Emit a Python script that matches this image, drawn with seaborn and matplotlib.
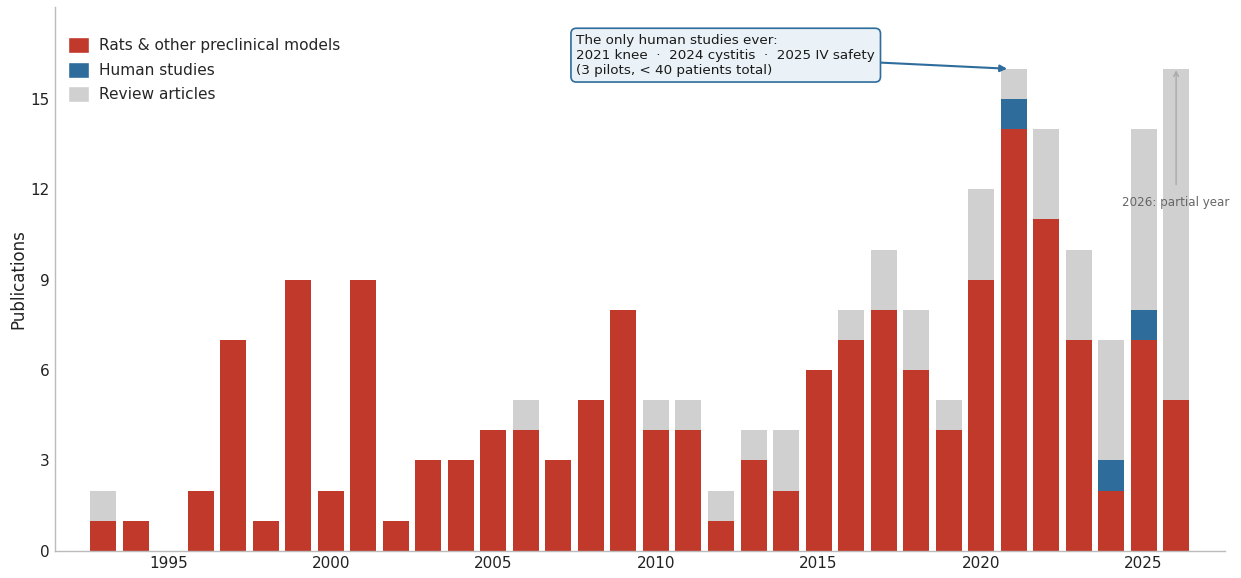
import numpy as np
import pandas as pd
import matplotlib
matplotlib.use("Agg")
import matplotlib.pyplot as plt
from matplotlib.patches import Patch
import seaborn as sns

years = list(range(1993, 2027))
preclinical = [1, 1, 0, 2, 7, 1, 9, 2, 9, 1, 3, 3, 4, 4, 3, 5, 8, 4, 4, 1, 3, 2, 6, 7, 8, 6, 4, 9, 14, 11, 7, 2, 7, 5]
human =       [0, 0, 0, 0, 0, 0, 0, 0, 0, 0, 0, 0, 0, 0, 0, 0, 0, 0, 0, 0, 0, 0, 0, 0, 0, 0, 0, 0, 1, 0, 0, 1, 1, 0]
reviews =     [1, 0, 0, 0, 0, 0, 0, 0, 0, 0, 0, 0, 0, 1, 0, 0, 0, 1, 1, 1, 1, 2, 0, 1, 2, 2, 1, 3, 1, 3, 3, 4, 6, 11]

RED = "#c0392b"
BLUE = "#2e6c9c"
GRAY = "#d0d0d0"

df = pd.DataFrame({"year": years, "pre": preclinical, "hum": human, "rev": reviews})
df["lvl2"] = df["pre"] + df["hum"]
df["lvl3"] = df["lvl2"] + df["rev"]

sns.set_theme(style="white")
plt.rcParams["font.family"] = ["DejaVu Sans"]

fig, ax = plt.subplots(figsize=(12.41, 5.78), dpi=100)
fig.subplots_adjust(left=0.044, right=0.987, top=0.988, bottom=0.047)

sns.barplot(data=df, x="year", y="lvl3", native_scale=True, color=GRAY, saturation=1, width=0.8, ax=ax, linewidth=0)
sns.barplot(data=df, x="year", y="lvl2", native_scale=True, color=BLUE, saturation=1, width=0.8, ax=ax, linewidth=0)
sns.barplot(data=df, x="year", y="pre", native_scale=True, color=RED, saturation=1, width=0.8, ax=ax, linewidth=0)

ax.set_xlim(1991.5, 2027.5)
ax.set_ylim(0, 18.05)
ax.set_yticks([0, 3, 6, 9, 12, 15])
ax.set_xticks([1995, 2000, 2005, 2010, 2015, 2020, 2025])
ax.tick_params(axis="both", length=0, labelsize=11, colors="#222222")
ax.set_xlabel("")
ax.set_ylabel("Publications", fontsize=12, color="#222222", labelpad=2)
for s in ["top", "right"]:
    ax.spines[s].set_visible(False)
for s in ["left", "bottom"]:
    ax.spines[s].set_color("#bbbbbb")
    ax.spines[s].set_linewidth(1.0)

handles = [Patch(facecolor=RED, label="Rats & other preclinical models"),
           Patch(facecolor=BLUE, label="Human studies"),
           Patch(facecolor=GRAY, label="Review articles")]
ax.legend(handles=handles, loc="upper left", frameon=False, fontsize=11.1,
          bbox_to_anchor=(0.0, 0.97), handlelength=1.3, handleheight=1.2,
          handletextpad=0.7, labelspacing=0.55)

ax.annotate("The only human studies ever:\n2021 knee  \u00b7  2024 cystitis  \u00b7  2025 IV safety\n(3 pilots, < 40 patients total)",
            xy=(2020.8, 16.0), xytext=(2007.55, 16.45), ha="left", va="center",
            fontsize=9.7, color="#1a1a1a", linespacing=1.2,
            bbox=dict(boxstyle="round,pad=0.4", facecolor="#eaf2f8", edgecolor=BLUE, linewidth=1.2),
            arrowprops=dict(arrowstyle="-|>", color=BLUE, lw=1.5, shrinkA=0, shrinkB=0, mutation_scale=10))

ax.annotate("2026: partial year", xy=(2026, 15.95), xytext=(2026, 11.55), ha="center", va="center",
            fontsize=8.6, color="#666666",
            arrowprops=dict(arrowstyle="->", color="#aaaaaa", lw=1.0, shrinkA=6, shrinkB=0))

fig.savefig("out.png", dpi=100)
